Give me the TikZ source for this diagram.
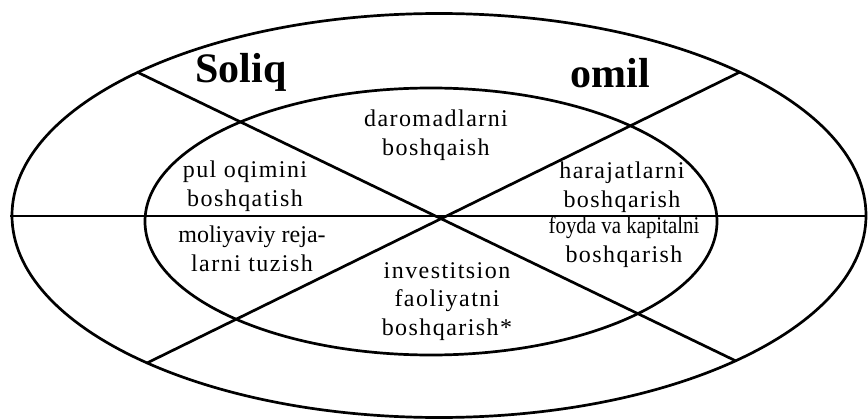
\documentclass[tikz,border=0pt]{standalone}
\usepackage{fontspec}
\usepackage{graphicx}
\setmainfont{Liberation Serif}
\newfontfamily\lblfont[LetterSpace=6]{Liberation Serif}
\newfontfamily\tightfont{Liberation Serif}
\begin{document}
\begin{tikzpicture}[x=1pt,y=-1pt,
  ring/.style={line width=2.7pt,black},
  cutline/.style={line width=2.7pt,black},
  label/.style={font=\lblfont\fontsize{24}{28.5}\selectfont,align=center,inner sep=0pt,anchor=base},
  title/.style={font=\bfseries\fontsize{42}{44}\selectfont,inner sep=0pt,anchor=base}]
\useasboundingbox (0,0) rectangle (868,420);
% ellipses
\draw[ring] (439,215.5) ellipse [x radius=427, y radius=202];
\draw[ring] (431,221.5) ellipse [x radius=286, y radius=133.5];
% dividing lines
\coordinate (l1a) at (137,72);
\coordinate (l1b) at (736,361);
\coordinate (l2a) at (740,72);
\coordinate (l2b) at (147,363);
\coordinate (h1) at (10,216);
\coordinate (h2) at (866,216);
\draw[cutline] (l1a) -- (l1b);
\draw[cutline] (l2a) -- (l2b);
\draw[cutline] (h1) -- (h2);
% titles
\node[title] (soliq) at (241,83) {Soliq};
\node[title] (omil) at (610,88) {omil};
% labels (anchor = baseline of last line)
\node[label] (daromad) at (436,155) {daromadlarni\\boshqaish};
\node[label] (pul) at (245,206) {pul oqimini\\boshqatish};
\node[label] (harajat) at (622,207) {harajatlarni\\boshqarish};
\node[label] (moliya) at (252,271) {{\tightfont moliyaviy reja-}\\larni tuzish};
\node[label] (foyda) at (624,262) {\scalebox{0.87}[1]{\tightfont foyda va kapitalni}\\boshqarish};
\node[label] (invest) at (447,335) {investitsion\\faoliyatni\\boshqarish*};
\end{tikzpicture}
\end{document}
